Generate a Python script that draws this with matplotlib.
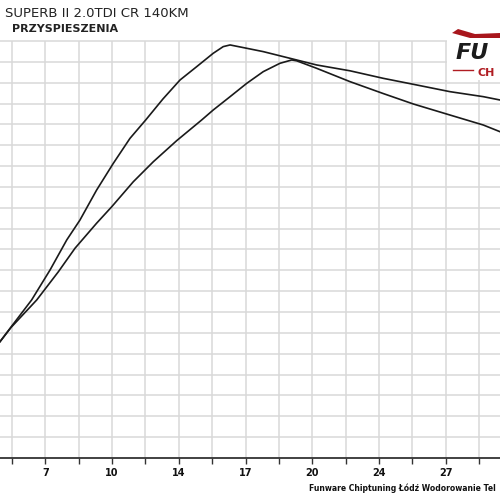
import matplotlib
matplotlib.use("Agg")
import matplotlib.pyplot as plt
from matplotlib.patches import Rectangle, Polygon

# ---- data ----
x_upper = [4.49, 5.05, 6.10, 7.04, 7.89, 8.56, 9.41, 10.26, 11.11, 11.91, 12.79,
           13.66, 14.51, 15.35, 15.86, 16.21, 17.06, 17.90, 18.92, 20.62, 22.32,
           24.01, 25.72, 27.41, 29.11, 29.96]
y_upper = [55.8, 62.8, 75.8, 90.2, 104.6, 114.1, 128.5, 141.3, 153.3, 162.1, 172.2,
           181.3, 187.7, 194.1, 197.3, 198.1, 196.5, 194.9, 192.5, 188.5, 185.7,
           182.1, 178.9, 175.7, 173.3, 171.7]

x_lower = [4.49, 5.05, 6.36, 7.46, 8.31, 9.41, 10.18, 11.28, 12.30, 13.49, 14.76,
           15.35, 16.21, 17.06, 17.90, 18.75, 19.35, 19.60, 20.62, 22.32, 24.01,
           25.54, 27.41, 29.11, 29.96]
y_lower = [55.8, 62.6, 75.8, 89.3, 100.6, 112.6, 120.5, 132.5, 142.1, 152.2, 162.1,
           166.9, 173.3, 179.7, 185.3, 189.3, 190.9, 190.5, 186.9, 180.5, 174.8,
           169.8, 164.5, 159.7, 156.5]

x_grid = [5.1 + 1.7 * i for i in range(15)]
x_major = [6.8, 10.2, 13.6, 17.0, 20.4, 23.8, 27.2]
x_labels = ["7", "10", "14", "17", "20", "24", "27"]
y_grid = [10 * i for i in range(1, 21)]

title1 = "SUPERB II 2.0TDI CR 140KM"
title2 = "PRZYSPIESZENIA"
footer = "Funware Chiptuning Łódź Wodorowanie Tel"

# ---- figure ----
fig = plt.figure(figsize=(5, 5), dpi=100)
ax = fig.add_axes([0, 0, 1, 1])
ax.set_xlim(4.489, 29.96)
ax.set_ylim(-20.14, 219.66)
ax.set_facecolor("white")

grid_c = "#d9d9d9"
ax.vlines(x_grid, 0, 200, colors=grid_c, linewidth=1.1, zorder=1)
ax.hlines(y_grid, 4.489, 29.96, colors=grid_c, linewidth=1.1, zorder=1)

ax.plot(x_upper, y_upper, color="#1a1a1a", linewidth=1.2, zorder=3)
ax.plot(x_lower, y_lower, color="#1a1a1a", linewidth=1.2, zorder=3)

for s in ["top", "right", "left"]:
    ax.spines[s].set_visible(False)
ax.spines["bottom"].set_position(("data", 0))
ax.spines["bottom"].set_color("#333333")
ax.spines["bottom"].set_linewidth(1.3)
ax.set_yticks([])
ax.set_xticks(x_major)
ax.set_xticklabels(x_labels, fontsize=7, fontweight="bold", color="#111111")
ax.set_xticks([v for v in x_grid if all(abs(v - m) > 1e-6 for m in x_major)], minor=True)
ax.tick_params(axis="x", which="both", direction="out", length=4, width=1,
               color="#333333", pad=3.5)

# titles
fig.text(5 / 500, 1 - 17 / 500, title1, fontsize=9.5, color="#222222",
         ha="left", va="baseline")
fig.text(12 / 500, 1 - 32 / 500, title2, fontsize=8, color="#222222",
         fontweight="bold", ha="left", va="baseline")

# footer
fig.text(309 / 500, 1 - 488 / 500, footer, fontsize=5.5, fontweight="bold",
         color="#111111", ha="left", va="center")

# logo area
fig.patches.append(Rectangle((447 / 500, 1 - 80 / 500), 60 / 500, 58 / 500,
                             transform=fig.transFigure, facecolor="white",
                             edgecolor="none", zorder=5))
fig.patches.append(Polygon([(452 / 500, 1 - 33 / 500), (470 / 500, 1 - 38 / 500),
                            (500 / 500, 1 - 38 / 500), (500 / 500, 1 - 33 / 500),
                            (475 / 500, 1 - 34 / 500), (458 / 500, 1 - 29 / 500)],
                           closed=True, transform=fig.transFigure,
                           facecolor="#a8161c", edgecolor="none", zorder=6))
fig.text(456 / 500, 1 - 59 / 500, "FU", fontsize=16, fontweight="bold",
         fontstyle="italic", color="#1c1c1c", ha="left", va="baseline", zorder=7)
fig.lines.append(plt.Line2D([453 / 500, 473 / 500], [1 - 70 / 500, 1 - 70 / 500],
                            transform=fig.transFigure, color="#b01c22",
                            linewidth=1.0, zorder=7))
fig.text(478 / 500, 1 - 76 / 500, "CH", fontsize=8, fontweight="bold",
         color="#b01c22", ha="left", va="baseline", zorder=7)

fig.savefig("out.png", dpi=100, facecolor="white")
